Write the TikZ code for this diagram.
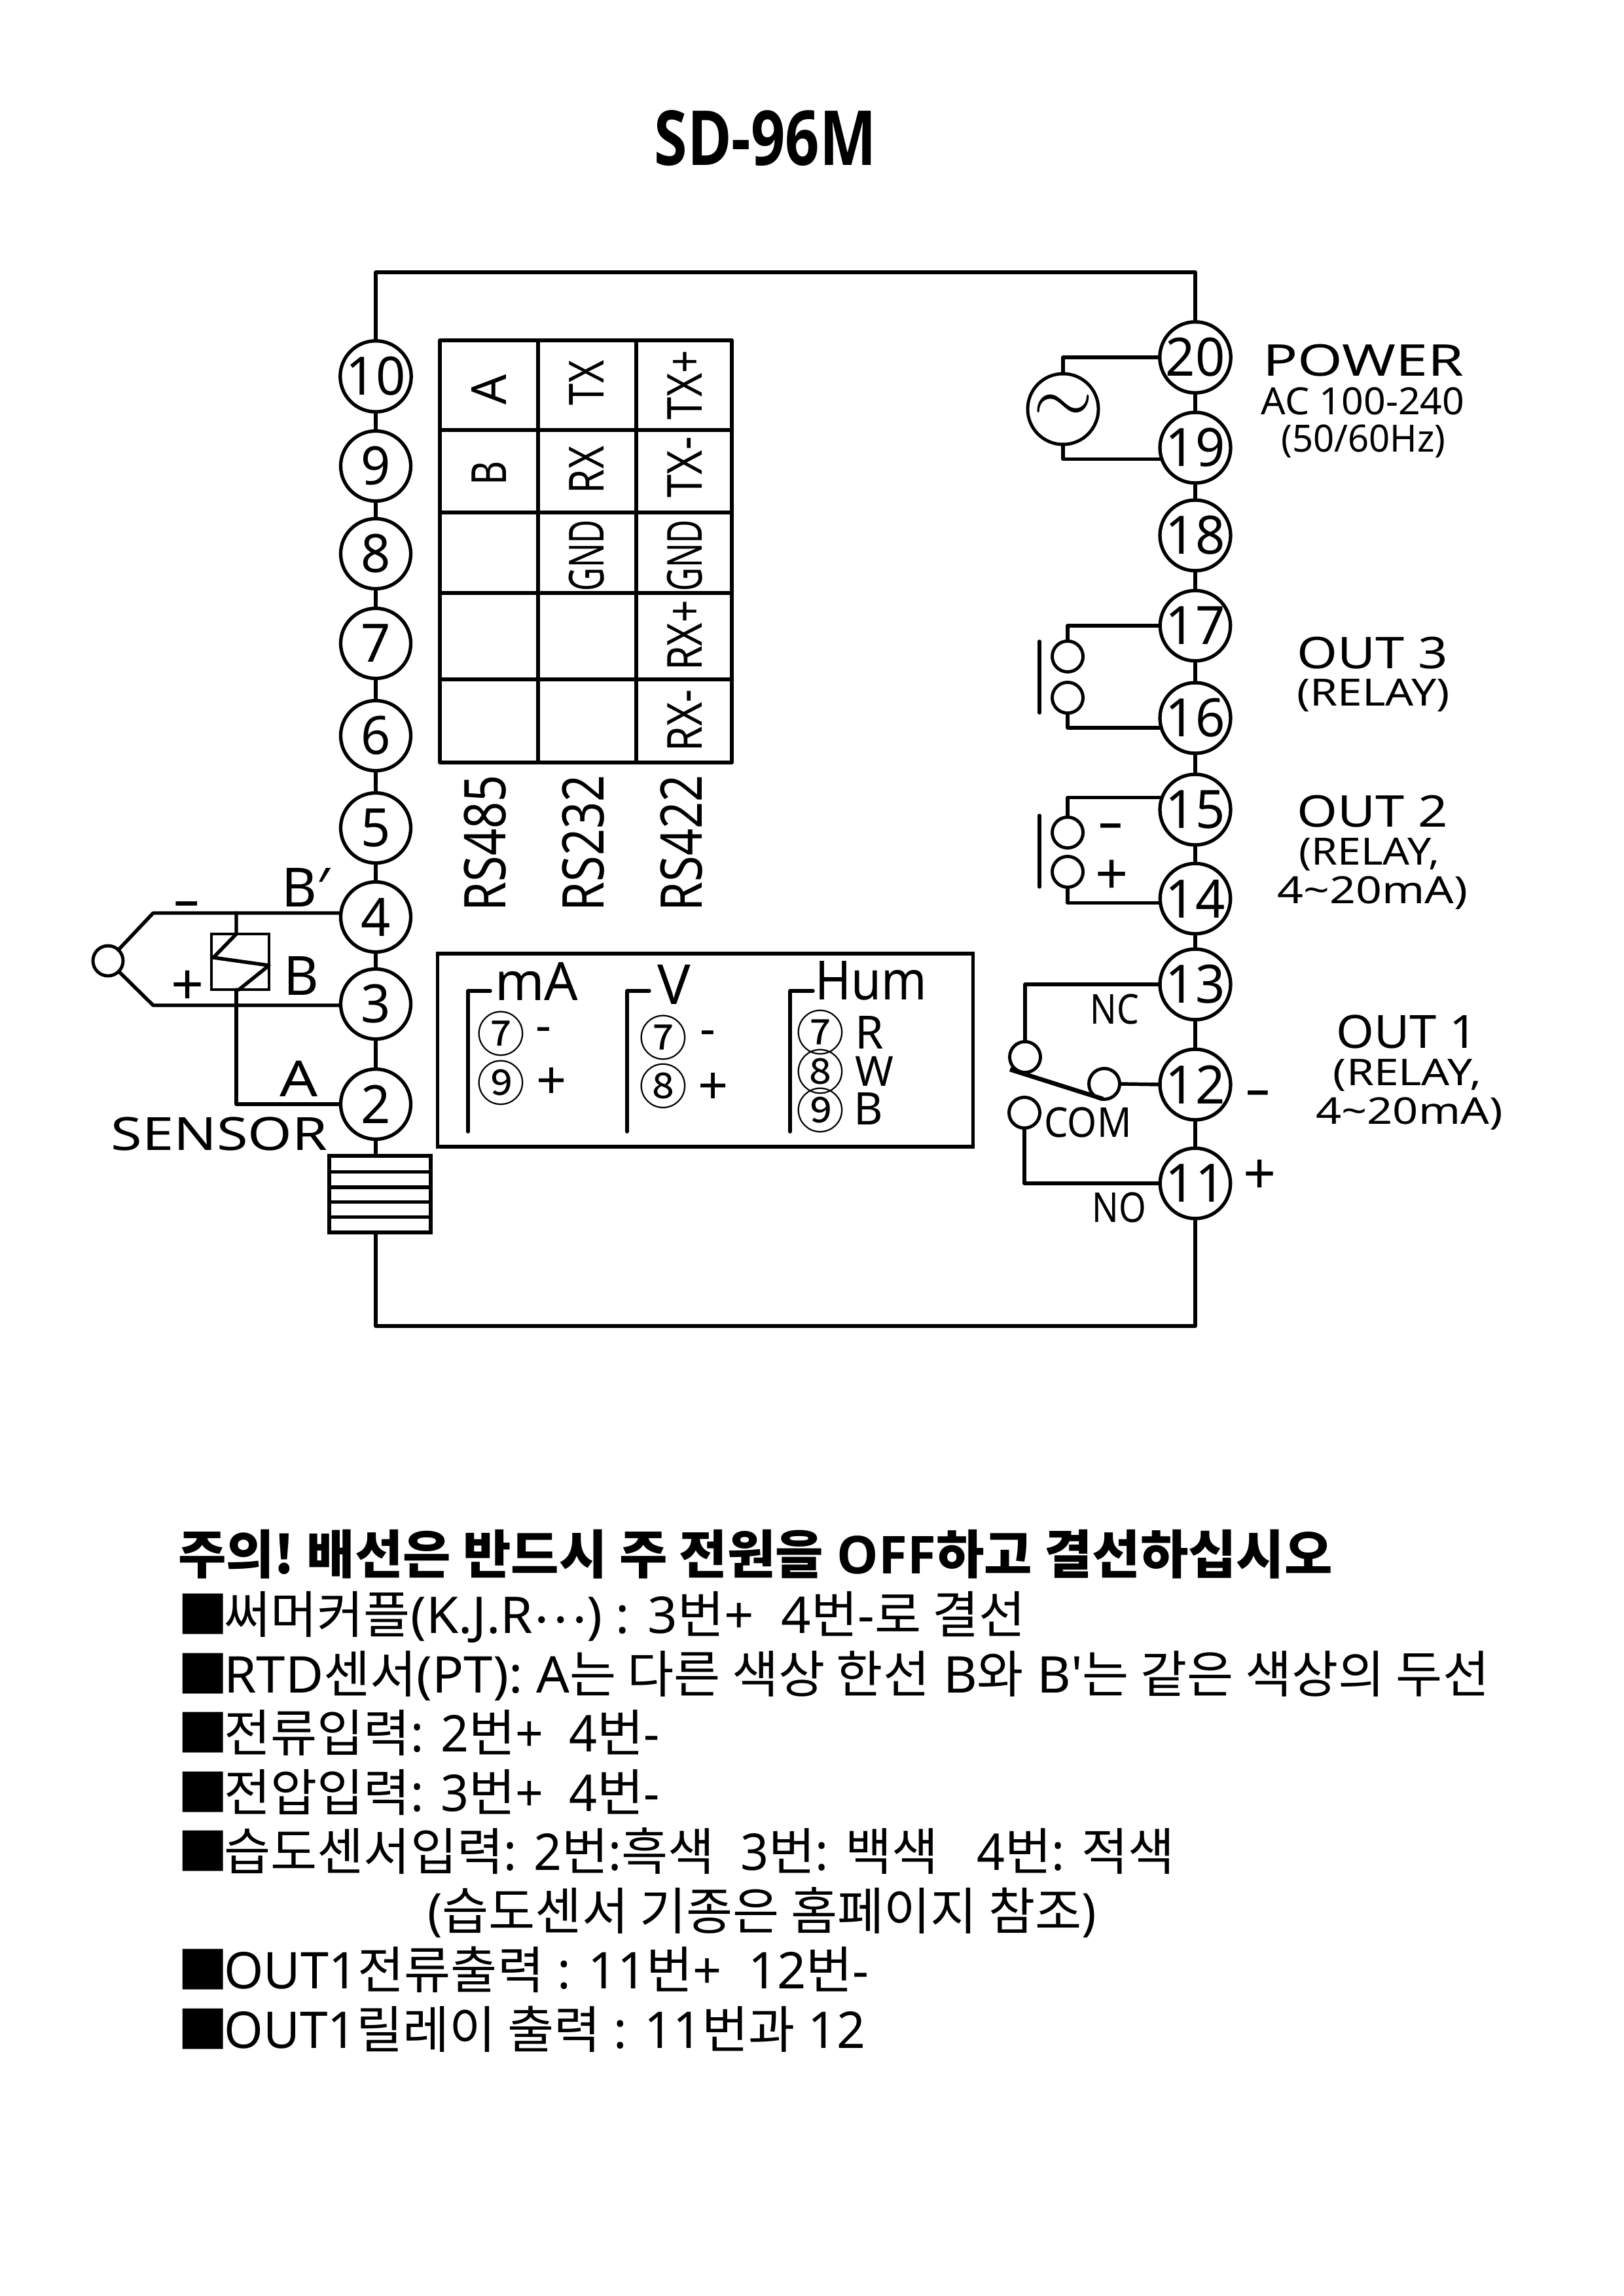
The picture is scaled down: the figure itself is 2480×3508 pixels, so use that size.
\documentclass[tikz,border=0pt]{standalone}
\usepackage{fontspec}
\usetikzlibrary{calc}
\setmainfont{Noto Sans}
\newfontfamily\kofont{Noto Sans CJK KR}
\newfontfamily\headfont{Open Sans}
\newcommand{\ko}[1]{{\kofont #1}}
\newcommand{\sq}{\ko{■}\kern-1.7pt}
\newcommand{\lab}[2]{\fontsize{#1}{#1}\selectfont\addfontfeatures{FakeStretch=#2}}
\tikzset{x=0.01cm, y=-0.01cm,
    wire/.style={line width=1.55pt, line cap=round, line join=round},
    terminal/.style={draw, circle, line width=1.5pt, inner sep=0pt, outer sep=0pt,
        minimum size=1.07cm, font=\lab{23}{0.98}},
    contact/.style={draw, circle, line width=1.4pt, inner sep=0pt, outer sep=0pt, minimum size=0.47cm},
    lbl/.style={inner sep=0pt, outer sep=0pt, anchor=base},
    cell/.style={inner sep=0pt, outer sep=0pt, rotate=90},
    textline/.style={inner sep=0pt, outer sep=0pt, anchor=base west, font=\lab{22}{0.97}},
    }
\begin{document}
\begin{tikzpicture}
\useasboundingbox (0,0) rectangle (2480,3508);
\node[lbl, font={\headfont\bfseries\lab{33}{0.79}}] (title) at (1169,252) {SD-96M};
% left terminals
\node[terminal] (t10) at (574,575) {10};
\node[terminal] (t9) at (574,712) {9};
\node[terminal] (t8) at (574,846) {8};
\node[terminal] (t7) at (574,983) {7};
\node[terminal] (t6) at (574,1124) {6};
\node[terminal] (t5) at (574,1265) {5};
\node[terminal] (t4) at (574,1401) {4};
\node[terminal] (t3) at (574,1534) {3};
\node[terminal] (t2) at (574,1687) {2};
% right terminals
\node[terminal] (t20) at (1826,546) {20};
\node[terminal] (t19) at (1826,684) {19};
\node[terminal] (t18) at (1826,818) {18};
\node[terminal] (t17) at (1826,956) {17};
\node[terminal] (t16) at (1826,1097) {16};
\node[terminal] (t15) at (1826,1237) {15};
\node[terminal] (t14) at (1826,1373) {14};
\node[terminal] (t13) at (1826,1504) {13};
\node[terminal] (t12) at (1826,1657) {12};
\node[terminal] (t11) at (1826,1808) {11};
% case outline
\coordinate (topL) at (574,416);
\coordinate (topR) at (1826,416);
\coordinate (botL) at (574,2026);
\coordinate (botR) at (1826,2026);
\node[draw, line width=1.5pt, inner sep=0pt, outer sep=0pt, minimum width=1.55cm, minimum height=1.17cm] (grill) at (580.5,1824.5) {};
\draw[wire] (t10.north) -- (topL) -- (topR) -- (t20.north);
\draw[wire] (t11.south) -- (botR) -- (botL) -- (botL |- grill.south);
\draw[wire] (t2.south) -- (t2.south |- grill.north);
\draw[wire] (t10) -- (t9);
\draw[wire] (t9) -- (t8);
\draw[wire] (t8) -- (t7);
\draw[wire] (t7) -- (t6);
\draw[wire] (t6) -- (t5);
\draw[wire] (t5) -- (t4);
\draw[wire] (t4) -- (t3);
\draw[wire] (t3) -- (t2);
\draw[wire] (t20) -- (t19);
\draw[wire] (t19) -- (t18);
\draw[wire] (t18) -- (t17);
\draw[wire] (t17) -- (t16);
\draw[wire] (t16) -- (t15);
\draw[wire] (t15) -- (t14);
\draw[wire] (t14) -- (t13);
\draw[wire] (t13) -- (t12);
\draw[wire] (t12) -- (t11);
\draw[wire] ($(grill.north west)!.21!(grill.south west)$) -- ($(grill.north east)!.21!(grill.south east)$);
\draw[wire] ($(grill.north west)!.41!(grill.south west)$) -- ($(grill.north east)!.41!(grill.south east)$);
\draw[wire] ($(grill.north west)!.60!(grill.south west)$) -- ($(grill.north east)!.60!(grill.south east)$);
\draw[wire] ($(grill.north west)!.80!(grill.south west)$) -- ($(grill.north east)!.80!(grill.south east)$);
% comm table
\draw[wire] (672,520) rectangle (1118,1165);
\draw[wire] (822,520) -- (822,1165);
\draw[wire] (972,520) -- (972,1165);
\draw[wire] (672,657) -- (1118,657);
\draw[wire] (672,783) -- (1118,783);
\draw[wire] (672,906) -- (1118,906);
\draw[wire] (672,1038) -- (1118,1038);
\node[cell, font=\lab{21}{0.98}] (a485) at (747,595) {A};
\node[cell, font=\lab{21}{0.77}] (b485) at (747,723) {B};
\node[cell, font=\lab{21}{0.81}] (tx232) at (896,585) {TX};
\node[cell, font=\lab{21}{0.81}] (rx232) at (896,718) {RX};
\node[cell, font=\lab{21}{0.67}] (gnd232) at (896,849) {GND};
\node[cell, font=\lab{21}{0.84}] (txp422) at (1046,588) {TX+};
\node[cell, font=\lab{21}{0.86}] (txm422) at (1046,714) {TX-};
\node[cell, font=\lab{21}{0.67}] (gnd422) at (1046,849) {GND};
\node[cell, font=\lab{21}{0.82}] (rxp422) at (1046,971) {RX+};
\node[cell, font=\lab{21}{0.84}] (rxm422) at (1046,1101) {RX-};
\node[cell, font=\lab{25}{0.82}] (rs485) at (741,1288) {RS485};
\node[cell, font=\lab{25}{0.82}] (rs232) at (891,1288) {RS232};
\node[cell, font=\lab{25}{0.82}] (rs422) at (1041,1288) {RS422};
% sensor
\node[contact, minimum size=0.46cm] (bulb) at (165,1468) {};
\coordinate (snsTop) at (234,1395);
\coordinate (snsBot) at (234,1536);
\coordinate (tapTop) at (361,1395);
\coordinate (tapBot) at (361,1512);
\node[draw, line width=1.3pt, inner sep=0pt, outer sep=0pt, minimum width=0.88cm, minimum height=0.85cm] (coil) at (367,1469.5) {};
\coordinate (zzA) at (361,1427);
\coordinate (zzB) at (326,1463);
\coordinate (zzC) at (411,1475);
\coordinate (zzD) at (365,1512);
\draw[wire] (bulb) -- (snsTop) -- (snsTop -| t4.west);
\draw[wire] (bulb) -- (snsBot) -- (snsBot -| t3.west);
\draw[wire] (tapTop) -- (zzA) -- (zzB) -- (zzC) -- (zzD);
\draw[wire] (tapBot) -- (tapBot |- t2.west) -- (t2.west);
\node[lbl, font=\lab{24}{1.6}] (snsMinus) at (285,1403) {-};
\node[lbl, font=\lab{25}{1}] (snsPlus) at (287,1535) {+};
\node[lbl, font=\lab{23.5}{1}] (lblBp) at (467,1385) {B′};
\node[lbl, font=\lab{23.5}{1}] (lblB) at (460,1520) {B};
\node[lbl, font=\lab{21.6}{1.2}] (lblA) at (457,1675) {A};
\node[lbl, font=\lab{19.9}{1.24}] (lblSensor) at (335,1757) {SENSOR};
% input table
\node[draw, line width=1.5pt, inner sep=0pt, outer sep=0pt, minimum width=8.17cm, minimum height=2.95cm] (inbox) at (1077.5,1604.5) {};
\coordinate (brA) at (715,1514);
\coordinate (brB) at (958,1514);
\coordinate (brC) at (1207,1514);
\draw[wire] (749,1514) -- (brA) -- (715,1729);
\draw[wire] (992,1514) -- (brB) -- (958,1729);
\draw[wire] (1242,1514) -- (brC) -- (1207,1729);
\node[lbl, font=\lab{23}{1}] (lblmA) at (820,1528) {mA};
\node[lbl, font=\lab{24}{1}] (lblV) at (1030,1534) {V};
\node[lbl, font=\lab{23.5}{0.9}] (lblHum) at (1331,1527) {Hum};
\node[inner sep=0pt, font=\lab{21}{1}] (maSeven) at (765,1579) {\ko{⑦}};
\node[inner sep=0pt, font=\lab{21}{1}] (maNine) at (765,1654) {\ko{⑨}};
\node[inner sep=0pt, font=\lab{21}{1}] (maMinus) at (830,1581) {-};
\node[inner sep=0pt, font=\lab{23}{1}] (maPlus) at (843,1655) {+};
\node[inner sep=0pt, font=\lab{21}{1}] (vSeven) at (1013,1585) {\ko{⑦}};
\node[inner sep=0pt, font=\lab{21}{1}] (vEight) at (1013,1659) {\ko{⑧}};
\node[inner sep=0pt, font=\lab{21}{1}] (vMinus) at (1081,1586) {-};
\node[inner sep=0pt, font=\lab{23}{1}] (vPlus) at (1090,1663) {+};
\node[inner sep=0pt, font=\lab{21}{1}] (hSeven) at (1253,1577) {\ko{⑦}};
\node[inner sep=0pt, font=\lab{21}{1}] (hEight) at (1253,1637) {\ko{⑧}};
\node[inner sep=0pt, font=\lab{21}{1}] (hNine) at (1253,1696) {\ko{⑨}};
\node[inner sep=0pt, font=\lab{19.9}{1}] (hR) at (1328,1577) {R};
\node[inner sep=0pt, font=\lab{18}{1}] (hW) at (1336,1637) {W};
\node[inner sep=0pt, font=\lab{19.5}{1}] (hB) at (1327,1694) {B};
% power
\node[contact, minimum size=1.08cm] (acsrc) at (1624,625) {};
\node[scale=1.35, transform shape, inner sep=0pt] (acsym) at (acsrc.center) {\Huge$\sim$};
\draw[wire] (acsrc.north) |- (t20.west);
\draw[wire] (acsrc.south) |- (t19.199);
\node[lbl, font=\lab{19}{1.32}] (lblPower) at (2083,574) {POWER};
\node[lbl, font=\lab{16.3}{1.03}] (lblAc) at (2082,633) {AC 100-240};
\node[lbl, font=\lab{16.3}{0.98}] (lblHz) at (2083,690) {(50/60Hz)};
% out 3
\coordinate (barC) at (1588,980);
\coordinate (barD) at (1588,1089);
\node[contact] (o3a) at (1631,1003) {};
\node[contact] (o3b) at (1631,1066) {};
\draw[wire] (barC) -- (barD);
\draw[wire] (o3a.north) |- (t17.west);
\draw[wire] (o3b.south) |- (t16.196);
\node[lbl, font=\lab{19}{1.19}] (lblOut3) at (2097,1021) {OUT 3};
\node[lbl, font=\lab{16.3}{1.18}] (lblRel3) at (2098,1078) {(RELAY)};
% out 2
\coordinate (barA) at (1588,1246);
\coordinate (barB) at (1588,1355);
\node[contact] (o2a) at (1631,1272) {};
\node[contact] (o2b) at (1631,1332) {};
\draw[wire] (barA) -- (barB);
\draw[wire] (o2a.north) |- (t15.160);
\draw[wire] (o2b.south) |- (t14.187);
\node[inner sep=0pt, font=\lab{24}{1.5}] (o2Minus) at (1697,1272) {-};
\node[inner sep=0pt, font=\lab{25}{1}] (o2Plus) at (1699,1340) {+};
\node[lbl, font=\lab{19}{1.19}] (lblOut2) at (2097,1263) {OUT 2};
\node[lbl, font=\lab{16.3}{1.12}] (lblRel2) at (2092,1321) {(RELAY,};
\node[lbl, font=\lab{16.3}{1.22}] (lblMa2) at (2097,1380) {4\textasciitilde20mA)};
% out 1
\node[contact] (ncC) at (1566,1615) {};
\node[contact] (comC) at (1687,1656) {};
\node[contact] (noC) at (1565,1700) {};
\coordinate (lvA) at (1543,1634);
\coordinate (lvB) at (1685,1679);
\draw[line width=1.9pt] (lvA) -- (lvB);
\draw[wire] (ncC.north) |- (t13.west);
\draw[wire] (comC.east) -- (t12.west);
\draw[wire] (noC.south) |- (t11.west);
\node[lbl, font=\lab{17.9}{0.85}] (lblNc) at (1703,1564) {NC};
\node[lbl, font=\lab{17.9}{0.92}] (lblCom) at (1662,1737) {COM};
\node[lbl, font=\lab{17.9}{0.85}] (lblNo) at (1710,1867) {NO};
\node[inner sep=0pt, font=\lab{24}{1.5}] (o1Minus) at (1922,1680) {-};
\node[inner sep=0pt, font=\lab{25}{1}] (o1Plus) at (1925,1798) {+};
\node[lbl, font=\lab{19.9}{1.06}] (lblOut1) at (2149,1601) {OUT 1};
\node[lbl, font=\lab{16}{1.2}] (lblRel1) at (2150,1658) {(RELAY,};
\node[lbl, font=\lab{16}{1.22}] (lblMa1) at (2153,1717) {4\textasciitilde20mA)};
% notes
\node[textline, font={\headfont\bfseries\lab{22.7}{1}}] (note1) at (272,2404) {\ko{주의!\ 배선은 반드시 주 전원을} OFF\ko{하고 결선하십시오}};
\node[textline, font=\lab{22}{1.03}] (note2) at (271,2495) {\sq\ko{써머커플}(K.J.R\raisebox{0.2em}{\ko{⋯}}) : 3\ko{번}+~~4\ko{번}-\ko{로 결선}};
\node[textline, font=\lab{22}{1.03}] (note3) at (271,2586) {\sq RTD\ko{센서}(PT): A\ko{는 다른 색상 한선} B\ko{와} B\textquotesingle\ko{는 같은 색상의 두선}};
\node[textline] (note4) at (271,2676) {\sq\ko{전류입력}: 2\ko{번}+~~4\ko{번}-};
\node[textline] (note5) at (271,2767) {\sq\ko{전압입력}: 3\ko{번}+~~4\ko{번}-};
\node[textline] (note6) at (271,2857) {\sq\ko{습도센서입력}: 2\ko{번}:\ko{흑색}~~3\ko{번}: \ko{백색}~~~4\ko{번}: \ko{적색}};
\node[textline] (note7) at (653,2948) {(\ko{습도센서 기종은 홈페이지 참조})};
\node[textline, font=\lab{22}{1}] (note8) at (271,3038) {\sq OUT1\ko{전류출력} : 11\ko{번}+~~12\ko{번}-};
\node[textline, font=\lab{22}{0.99}] (note9) at (271,3129) {\sq OUT1\ko{릴레이 출력} : 11\ko{번과} 12};
\end{tikzpicture}
\end{document}
